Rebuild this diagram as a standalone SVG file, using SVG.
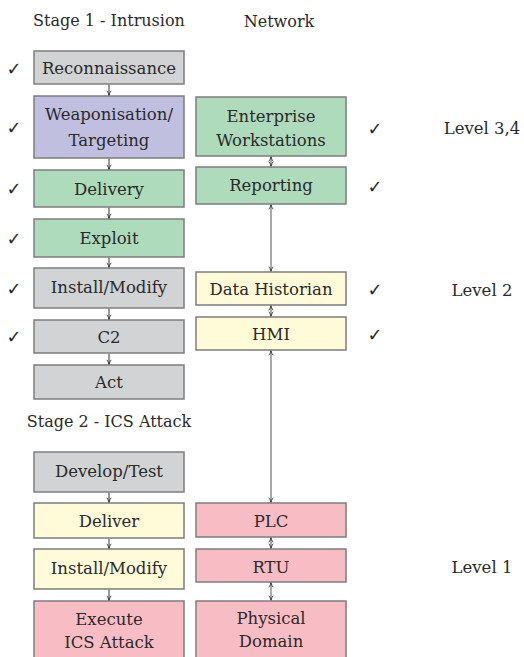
<svg xmlns="http://www.w3.org/2000/svg" width="524" height="657" viewBox="0 0 524 657">
<defs>
<style>
.b{stroke:#7d7d7d;stroke-width:1.5}
.g{fill:#d1d3d4}.p{fill:#c0bfe0}.gr{fill:#aedbbb}.y{fill:#fffbd9}.pk{fill:#f8bdc4}
text{font-family:"DejaVu Serif","Liberation Serif",serif;fill:#2a2a2a}
.t{font-size:16.5px;text-anchor:middle}
.h{font-size:16px;text-anchor:middle}
.lv{font-size:16.5px;text-anchor:middle}
.ck{font-family:"DejaVu Sans",sans-serif;font-size:18px;text-anchor:middle}
.a{stroke:#333;stroke-width:1;fill:none;marker-end:url(#ah)}
.d{stroke:#555;stroke-width:1;fill:none;marker-end:url(#ah);marker-start:url(#ah)}
</style>
<marker id="ah" viewBox="0 0 10 10" refX="9" refY="5" markerWidth="6" markerHeight="6" markerUnits="userSpaceOnUse" orient="auto-start-reverse">
<path d="M1.5,1.5 Q5,4 9,5 Q5,6 1.5,8.5" fill="none" stroke="#333" stroke-width="1.4"/>
</marker>
</defs>
<rect width="524" height="657" fill="#fff"/>

<text class="h" x="109" y="26">Stage 1 - Intrusion</text>
<text class="h" x="279" y="27">Network</text>
<text class="h" x="109" y="427">Stage 2 - ICS Attack</text>

<g id="levels">
<text class="lv" x="482" y="134">Level 3,4</text>
<text class="lv" x="482" y="296">Level 2</text>
<text class="lv" x="482" y="573">Level 1</text>
</g>

<g id="checks">
<text class="ck" x="14" y="75">✓</text>
<text class="ck" x="14" y="134">✓</text>
<text class="ck" x="14" y="195">✓</text>
<text class="ck" x="14" y="245">✓</text>
<text class="ck" x="14" y="295">✓</text>
<text class="ck" x="14" y="343">✓</text>
<text class="ck" x="375" y="135">✓</text>
<text class="ck" x="375" y="193">✓</text>
<text class="ck" x="375" y="296">✓</text>
<text class="ck" x="375" y="341">✓</text>
</g>

<g id="recon"><rect class="b g" x="34" y="51" width="150" height="33"/><text class="t" x="109" y="74">Reconnaissance</text></g>
<g id="weapon"><rect class="b p" x="34" y="96" width="150" height="62"/><text class="t" x="109" y="120">Weaponisation/</text><text class="t" x="109" y="146">Targeting</text></g>
<g id="delivery"><rect class="b gr" x="34" y="170" width="150" height="37"/><text class="t" x="109" y="195">Delivery</text></g>
<g id="exploit"><rect class="b gr" x="34" y="219" width="150" height="38"/><text class="t" x="109" y="244">Exploit</text></g>
<g id="install1"><rect class="b g" x="34" y="268" width="150" height="40"/><text class="t" x="109" y="293">Install/Modify</text></g>
<g id="c2"><rect class="b g" x="34" y="320" width="150" height="33"/><text class="t" x="109" y="343">C2</text></g>
<g id="act"><rect class="b g" x="34" y="365" width="150" height="34"/><text class="t" x="109" y="388">Act</text></g>
<g id="develop"><rect class="b g" x="34" y="452" width="150" height="40"/><text class="t" x="109" y="477">Develop/Test</text></g>
<g id="deliver"><rect class="b y" x="34" y="503" width="150" height="35"/><text class="t" x="109" y="527">Deliver</text></g>
<g id="install2"><rect class="b y" x="34" y="549" width="150" height="40"/><text class="t" x="109" y="574">Install/Modify</text></g>
<g id="execute"><rect class="b pk" x="34" y="601" width="150" height="62"/><text class="t" x="109" y="625">Execute</text><text class="t" x="109" y="648">ICS Attack</text></g>

<g id="enterprise"><rect class="b gr" x="196" y="97" width="150" height="59"/><text class="t" x="271" y="122">Enterprise</text><text class="t" x="271" y="146">Workstations</text></g>
<g id="reporting"><rect class="b gr" x="196" y="167" width="150" height="37"/><text class="t" x="271" y="191">Reporting</text></g>
<g id="historian"><rect class="b y" x="196" y="272" width="150" height="33"/><text class="t" x="271" y="295">Data Historian</text></g>
<g id="hmi"><rect class="b y" x="196" y="317" width="150" height="33"/><text class="t" x="271" y="340">HMI</text></g>
<g id="plc"><rect class="b pk" x="196" y="503" width="150" height="34"/><text class="t" x="271" y="527">PLC</text></g>
<g id="rtu"><rect class="b pk" x="196" y="549" width="150" height="33"/><text class="t" x="271" y="573">RTU</text></g>
<g id="physical"><rect class="b pk" x="196" y="601" width="150" height="62"/><text class="t" x="271" y="624">Physical</text><text class="t" x="271" y="647">Domain</text></g>

<g id="connectors">
<path class="a" d="M109,84.8V95.3"/>
<path class="a" d="M109,158.8V169.3"/>
<path class="a" d="M109,207.8V218.3"/>
<path class="a" d="M109,257.8V267.3"/>
<path class="a" d="M109,308.8V319.3"/>
<path class="a" d="M109,353.8V364.3"/>
<path class="a" d="M109,492.8V502.3"/>
<path class="a" d="M109,538.8V548.3"/>
<path class="a" d="M109,589.8V600.3"/>
<path class="d" d="M271,156.8V166.2"/>
<path class="d" d="M271,204.8V271.2"/>
<path class="d" d="M271,305.8V316.2"/>
<path class="d" d="M271,350.8V502.2"/>
<path class="d" d="M271,537.8V548.2"/>
<path class="d" d="M271,582.8V600.2"/>
</g>
</svg>
